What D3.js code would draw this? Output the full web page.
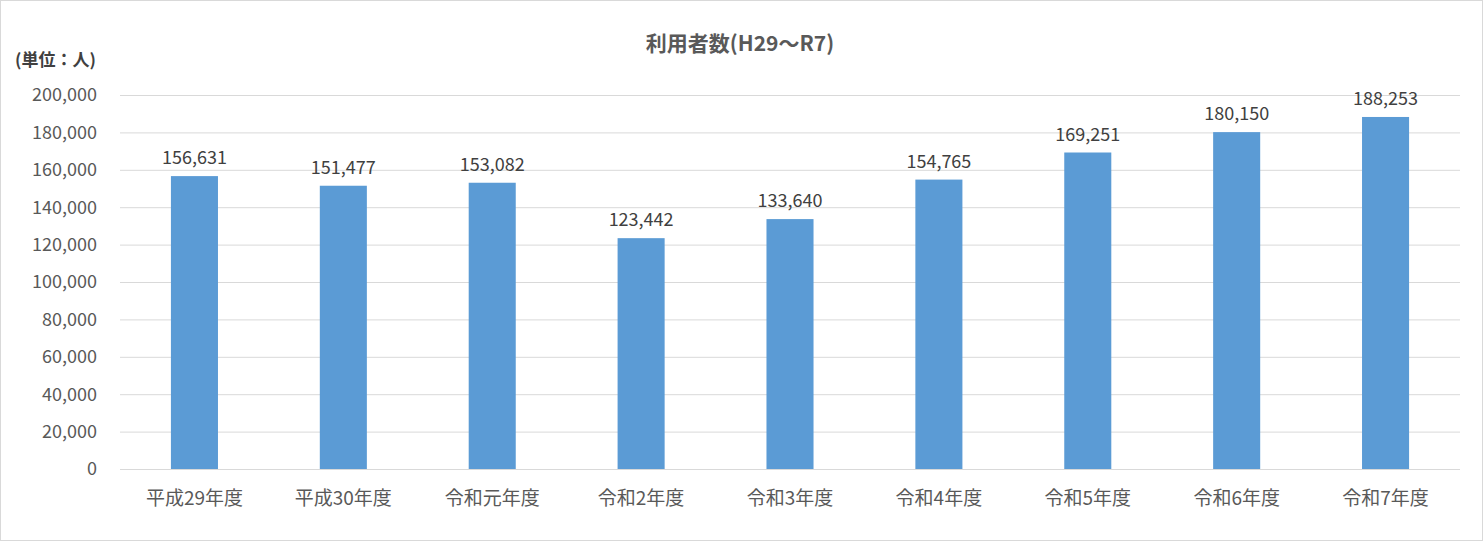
<!DOCTYPE html>
<html><head><meta charset="utf-8">
<script src="https://cdn.jsdelivr.net/npm/d3@7"></script>
<style>body{margin:0;background:#fff;font-family:"Noto Sans CJK JP",sans-serif;}</style>
</head><body><div id="chart"></div>
<script>
const categories = ["平成29年度","平成30年度","令和元年度","令和2年度","令和3年度","令和4年度","令和5年度","令和6年度","令和7年度"];
const values = [156631,151477,153082,123442,133640,154765,169251,180150,188253];
const yTicks = [0,20000,40000,60000,80000,100000,120000,140000,160000,180000,200000];

const W = 1483, H = 541;
const m = {left:120, right:23, top:95, bottom:72};
const svg = d3.select("#chart").append("svg").attr("width",W).attr("height",H);
svg.append("rect").attr("x",0.5).attr("y",0.5).attr("width",W-1).attr("height",H-1)
  .attr("fill","#fff").attr("stroke","#d9d9d9");

const x = d3.scaleBand().domain(categories).range([m.left, W-m.right]).paddingInner(0.684).paddingOuter(0.342);
const y = d3.scaleLinear().domain([0,200000]).range([H-m.bottom, m.top]);
const fmt = d3.format(",");

// grid
svg.append("g").selectAll("line").data(yTicks).join("line")
  .attr("x1",m.left).attr("x2",W-m.right)
  .attr("y1",d=>y(d)+0.5).attr("y2",d=>y(d)+0.5)
  .attr("stroke","#d9d9d9");

// y labels
svg.append("g").selectAll("text").data(yTicks).join("text")
  .attr("x",97).attr("y",d=>y(d)).attr("dy","0.35em").attr("text-anchor","end")
  .attr("font-size",18).attr("fill","#595959").text(d=>fmt(d));

// bars
svg.append("g").selectAll("rect").data(values).join("rect")
  .attr("x",(d,i)=>x(categories[i])).attr("width",x.bandwidth())
  .attr("y",d=>y(d)).attr("height",d=>y(0)-y(d)).attr("fill","#5B9BD5");

// value labels
svg.append("g").selectAll("text").data(values).join("text")
  .attr("x",(d,i)=>x(categories[i])+x.bandwidth()/2).attr("y",d=>y(d)-12)
  .attr("text-anchor","middle").attr("font-size",18).attr("fill","#404040").text(d=>fmt(d));

// x labels
svg.append("g").selectAll("text").data(categories).join("text")
  .attr("x",d=>x(d)+x.bandwidth()/2).attr("y",H-m.bottom+36)
  .attr("text-anchor","middle").attr("font-size",19).attr("fill","#595959").text(d=>d);

svg.append("text").attr("x",740).attr("y",51).attr("text-anchor","middle")
  .attr("font-size",21).attr("font-weight","bold").attr("fill","#595959").text("利用者数(H29～R7)");
svg.append("text").attr("x",15).attr("y",66)
  .attr("font-size",17).attr("font-weight","bold").attr("fill","#404040").text("(単位：人)");
</script></body></html>
